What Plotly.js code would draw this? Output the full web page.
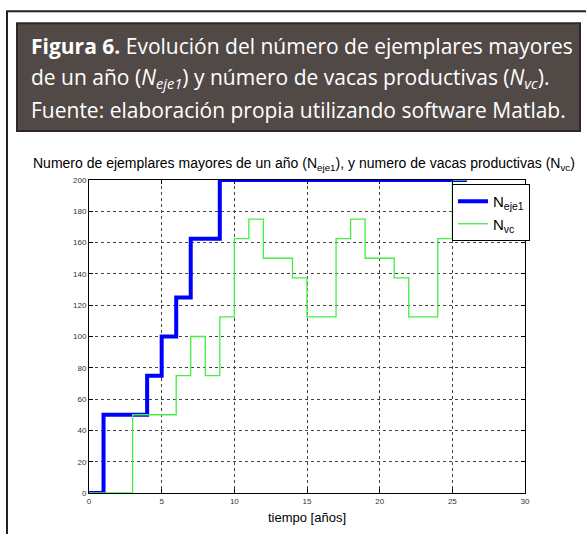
<!DOCTYPE html>
<html>
<head>
<meta charset="utf-8">
<script src="https://cdn.plot.ly/plotly-3.0.1.min.js"></script>
<style>html,body{margin:0;padding:0;background:#fff;}#chart{width:586px;height:534px;}</style>
</head>
<body>
<div id="chart"></div>
<script>
// ---- data ----
const ejeTime = [0, 1, 4, 5, 6, 7, 9, 26];
const ejeValues = [0, 50, 75, 100, 125, 162.5, 200, 200];
const vcTime = [0, 3, 6, 7, 8, 9, 10, 11, 12, 14, 15, 17, 18, 19, 21, 22, 24, 25, 26];
const vcValues = [0, 50, 75, 100, 75, 112.5, 162.5, 175, 150, 137.5, 112.5, 162.5, 175, 150, 137.5, 112.5, 162.5, 200, 200];
const xTicks = [0, 5, 10, 15, 20, 25, 30];
const yTicks = [0, 20, 40, 60, 80, 100, 120, 140, 160, 180, 200];
const seriesNames = ['N<sub>eje1</sub>', 'N<sub>vc</sub>'];
const chartTitle = 'Numero de ejemplares mayores de un año (N<sub>eje1</sub>), y numero de vacas productivas (N<sub>vc</sub>)';
const xTitle = 'tiempo [años]';
const captionLines = [
  '<b>Figura 6.</b> Evolución del número de ejemplares mayores',
  'de un año (<i>N<sub>eje1</sub></i>) y número de vacas productivas (<i>N<sub>vc</sub></i>).',
  'Fuente: elaboración propia utilizando software Matlab.'
];

// ---- layout geometry (pixels -> paper) ----
const L = 89, R = 525, T = 180, B = 493.5, W = 586, H = 534;
const px = X => (X - L) / (R - L);
const py = Y => (B - Y) / (B - T);

const traces = [
  {x: ejeTime, y: ejeValues, name: seriesNames[0], type: 'scatter', mode: 'lines',
   line: {shape: 'hv', color: '#0000ff', width: 4}},
  {x: vcTime, y: vcValues, name: seriesNames[1], type: 'scatter', mode: 'lines',
   line: {shape: 'hv', color: '#44ee44', width: 1.3}}
];

const capFont = {family: '"Open Sans", "Noto Sans", sans-serif', size: 21, color: '#ffffff'};
const capBase = [53, 85, 117];
const annotations = captionLines.map((t, i) => ({
  text: t, xref: 'paper', yref: 'paper', x: px(29), y: py(capBase[i] - 7),
  xanchor: 'left', yanchor: 'middle', showarrow: false, font: capFont
}));
annotations.push({
  text: chartTitle, xref: 'paper', yref: 'paper', x: px(304), y: py(164),
  xanchor: 'center', yanchor: 'middle', showarrow: false,
  font: {family: '"Liberation Sans", Arial, sans-serif', size: 14, color: '#000'}
});

const shapes = [
  // outer frame
  {type: 'line', xref: 'paper', yref: 'paper', x0: px(7), x1: px(7), y0: py(11), y1: py(540), line: {color: '#222', width: 2}},
  {type: 'line', xref: 'paper', yref: 'paper', x0: px(6), x1: px(600), y0: py(11), y1: py(11), line: {color: '#222', width: 2}},
  // caption box
  {type: 'rect', xref: 'paper', yref: 'paper', x0: px(17), x1: px(580), y0: py(23), y1: py(131),
   fillcolor: '#514946', line: {color: '#2e2927', width: 2}, layer: 'below'}
];

const axisCommon = {
  showline: true, linecolor: '#000', linewidth: 1, mirror: 'ticks',
  ticks: 'inside', ticklen: 4, tickcolor: '#000',
  showgrid: true, gridcolor: '#444', griddash: 'dot', gridwidth: 1,
  zeroline: false, tickfont: {family: '"Liberation Sans", Arial, sans-serif', size: 8, color: '#333'}
};

const layout = {
  width: W, height: H,
  margin: {l: L, r: W - R, t: T, b: H - B, pad: 0},
  paper_bgcolor: '#ffffff', plot_bgcolor: '#ffffff',
  showlegend: true,
  legend: {x: px(452), y: py(184), xanchor: 'left', yanchor: 'top',
           bgcolor: '#ffffff', bordercolor: '#000', borderwidth: 1,
           font: {family: '"Liberation Sans", Arial, sans-serif', size: 15, color: '#000'},
           itemwidth: 30, tracegroupgap: 0},
  xaxis: Object.assign({}, axisCommon, {range: [0, 30], tickvals: xTicks, ticktext: xTicks.map(String),
          title: {text: xTitle, standoff: 8, font: {family: '"Liberation Sans", Arial, sans-serif', size: 13, color: '#000'}}}),
  yaxis: Object.assign({}, axisCommon, {range: [0, 200], tickvals: yTicks, ticktext: yTicks.map(String)}),
  annotations: annotations,
  shapes: shapes
};

Plotly.newPlot('chart', traces, layout, {displayModeBar: false, staticPlot: true});
</script>
</body>
</html>
